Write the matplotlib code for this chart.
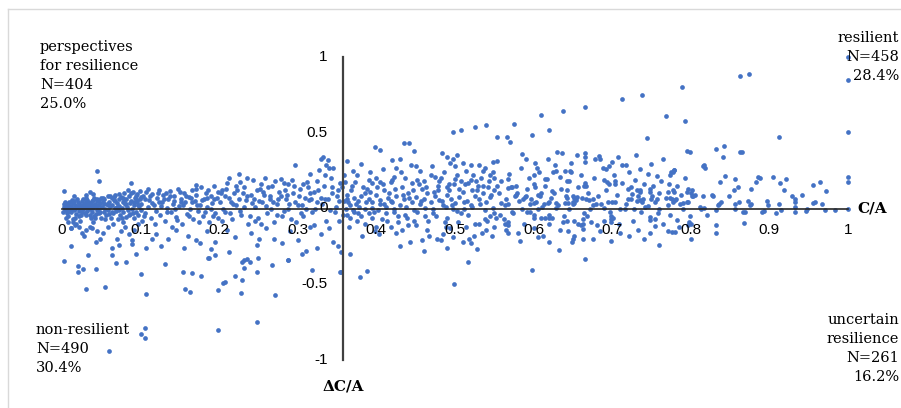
import matplotlib
matplotlib.use("Agg")
import matplotlib.pyplot as plt
from matplotlib.lines import Line2D
import numpy as np

# (C/A, dC/A) pairs, grouped by C/A range
pts_000_005 = [
    (0.002, 0.012), (0.004, -0.008), (0.005, 0.02), (0.006, 0.0), (0.007, -0.015), (0.008, 0.03),
    (0.009, 0.008), (0.010, -0.004), (0.011, 0.018), (0.012, -0.025), (0.013, 0.005), (0.014, 0.035),
    (0.015, -0.01), (0.016, 0.022), (0.017, 0.0), (0.018, -0.035), (0.019, 0.012), (0.020, 0.04),
    (0.021, -0.018), (0.022, 0.028), (0.023, 0.004), (0.024, -0.045), (0.025, 0.016), (0.026, 0.05),
    (0.027, -0.006), (0.028, 0.032), (0.029, -0.028), (0.030, 0.01), (0.031, 0.045), (0.032, -0.015),
    (0.033, 0.024), (0.034, 0.002), (0.035, -0.04), (0.036, 0.038), (0.037, 0.014), (0.038, -0.022),
    (0.039, 0.055), (0.040, 0.006), (0.041, -0.05), (0.042, 0.03), (0.043, 0.018), (0.044, -0.01),
    (0.045, 0.048), (0.046, 0.0), (0.047, -0.03), (0.048, 0.036), (0.049, 0.012), (0.050, -0.06),
    (0.003, 0.03), (0.006, -0.03), (0.009, 0.045), (0.012, 0.0), (0.015, 0.05), (0.018, 0.01),
    (0.021, -0.05), (0.024, 0.025), (0.027, 0.06), (0.030, -0.04), (0.033, 0.042), (0.036, -0.005),
    (0.039, 0.02), (0.042, -0.065), (0.045, 0.062), (0.048, -0.02), (0.004, 0.045), (0.008, -0.05),
    (0.013, 0.058), (0.017, -0.06), (0.022, 0.015), (0.026, -0.02), (0.031, 0.068), (0.035, 0.028),
    (0.038, 0.048), (0.043, -0.035), (0.047, 0.058), (0.001, -0.02), (0.005, -0.06), (0.011, 0.04),
    (0.014, -0.07), (0.019, 0.06), (0.023, -0.08), (0.028, 0.008), (0.032, 0.054), (0.037, -0.06),
    (0.041, 0.072), (0.046, 0.025), (0.049, 0.07),
    (0.002, 0.117), (0.044, 0.249), (0.047, 0.18), (0.002, -0.345), (0.011, -0.249), (0.028, -0.18),
    (0.025, -0.16), (0.033, -0.31), (0.020, -0.38), (0.020, -0.42), (0.027, -0.40), (0.043, -0.40),
    (0.031, -0.533), (0.043, -0.22), (0.048, -0.20), (0.012, -0.13), (0.018, -0.10), (0.035, -0.12),
    (0.040, -0.09), (0.008, -0.09), (0.030, -0.14), (0.045, -0.15), (0.022, -0.12), (0.015, 0.08),
    (0.030, 0.09), (0.040, 0.095), (0.036, 0.11), (0.011, -0.132), (0.014, -0.088), (0.017, -0.106),
    (0.038, -0.128),
]

pts_005_010 = [
    (0.051, 0.01), (0.052, 0.04), (0.053, -0.02), (0.054, 0.065), (0.055, 0.0), (0.056, -0.045),
    (0.057, 0.03), (0.058, 0.08), (0.059, -0.01), (0.060, 0.045), (0.061, 0.015), (0.062, -0.06),
    (0.063, 0.07), (0.064, 0.025), (0.065, -0.03), (0.066, 0.055), (0.067, 0.005), (0.068, 0.09),
    (0.069, -0.015), (0.070, 0.035), (0.071, -0.07), (0.072, 0.06), (0.073, 0.018), (0.074, -0.04),
    (0.075, 0.075), (0.076, 0.002), (0.077, 0.042), (0.078, -0.025), (0.079, 0.10), (0.080, 0.028),
    (0.081, -0.055), (0.082, 0.062), (0.083, 0.01), (0.084, -0.008), (0.085, 0.085), (0.086, 0.038),
    (0.087, -0.035), (0.088, 0.05), (0.089, 0.0), (0.090, 0.11), (0.091, -0.065), (0.092, 0.02),
    (0.093, 0.07), (0.094, -0.02), (0.095, 0.045), (0.096, 0.095), (0.097, -0.045), (0.098, 0.015),
    (0.099, 0.06), (0.100, -0.01),
    (0.052, 0.07), (0.055, -0.07), (0.058, 0.02), (0.061, 0.085), (0.064, -0.02), (0.067, 0.048),
    (0.070, 0.012), (0.073, 0.095), (0.076, -0.06), (0.079, 0.052), (0.082, 0.03), (0.085, -0.045),
    (0.088, 0.105), (0.091, 0.04), (0.094, 0.082), (0.097, 0.025), (0.100, 0.075), (0.054, 0.033),
    (0.060, -0.035), (0.066, 0.078), (0.072, -0.008), (0.078, 0.068), (0.084, 0.12), (0.090, -0.03),
    (0.096, 0.058), (0.099, 0.118),
    (0.088, 0.17), (0.055, -0.515), (0.069, -0.363), (0.082, -0.356), (0.064, -0.31), (0.064, -0.264),
    (0.060, -0.942), (0.089, -0.236), (0.089, -0.205), (0.094, -0.30), (0.100, -0.43), (0.070, -0.20),
    (0.075, -0.15), (0.058, -0.12), (0.065, -0.10), (0.080, -0.12), (0.085, -0.17), (0.092, -0.14),
    (0.097, -0.10), (0.078, -0.09), (0.052, -0.16), (0.073, -0.24),
]

pts_010_020 = [
    (0.101, 0.03), (0.103, 0.08), (0.105, -0.03), (0.107, 0.11), (0.109, 0.01), (0.111, 0.055),
    (0.113, -0.06), (0.115, 0.095), (0.117, 0.02), (0.119, -0.015), (0.121, 0.07), (0.123, 0.125),
    (0.125, -0.045), (0.127, 0.04), (0.129, 0.09), (0.131, -0.08), (0.133, 0.005), (0.135, 0.06),
    (0.137, 0.115), (0.139, -0.025), (0.141, 0.03), (0.143, 0.085), (0.145, -0.055), (0.147, 0.13),
    (0.149, 0.015), (0.151, 0.065), (0.153, -0.10), (0.155, 0.10), (0.157, 0.04), (0.159, -0.035),
    (0.161, 0.075), (0.163, 0.0), (0.165, 0.12), (0.167, -0.07), (0.169, 0.05), (0.171, 0.09),
    (0.173, -0.015), (0.175, 0.025), (0.177, 0.14), (0.179, -0.05), (0.181, 0.06), (0.183, 0.105),
    (0.185, 0.01), (0.187, -0.09), (0.189, 0.08), (0.191, 0.035), (0.193, 0.15), (0.195, -0.03),
    (0.197, 0.07), (0.199, 0.11),
    (0.102, -0.08), (0.106, 0.06), (0.110, 0.13), (0.114, 0.035), (0.118, -0.10), (0.122, 0.10),
    (0.126, 0.015), (0.130, 0.065), (0.134, -0.02), (0.138, 0.08), (0.142, 0.05), (0.146, -0.075),
    (0.150, 0.11), (0.154, 0.02), (0.158, 0.085), (0.162, -0.05), (0.166, 0.045), (0.170, 0.13),
    (0.174, -0.09), (0.178, 0.055), (0.182, -0.02), (0.186, 0.12), (0.190, 0.0), (0.194, 0.06),
    (0.198, -0.06),
    (0.104, -0.05), (0.112, 0.085), (0.124, 0.045), (0.132, 0.10), (0.144, 0.0), (0.152, 0.045),
    (0.164, 0.07), (0.172, 0.02), (0.184, 0.07), (0.192, -0.05),
    (0.105, -0.792), (0.101, -0.827), (0.105, -0.853), (0.107, -0.563), (0.131, -0.367),
    (0.154, -0.416), (0.165, -0.427), (0.157, -0.53), (0.163, -0.548), (0.177, -0.447),
    (0.186, -0.33), (0.170, 0.154), (0.107, -0.26), (0.126, -0.25), (0.120, -0.17), (0.135, -0.20),
    (0.145, -0.14), (0.160, -0.18), (0.175, -0.23), (0.185, -0.15), (0.190, -0.27), (0.171, -0.209),
    (0.140, -0.12), (0.115, -0.20), (0.195, -0.22), (0.155, -0.26),
]

pts_020_036 = [
    (0.201, 0.04), (0.204, 0.12), (0.207, -0.02), (0.210, 0.17), (0.213, 0.07), (0.216, -0.07),
    (0.219, 0.10), (0.222, 0.02), (0.225, 0.226), (0.228, -0.04), (0.231, 0.14), (0.234, 0.055),
    (0.237, -0.10), (0.240, 0.09), (0.243, 0.185), (0.246, 0.01), (0.249, -0.06), (0.252, 0.13),
    (0.255, 0.04), (0.258, 0.20), (0.261, -0.03), (0.264, 0.08), (0.267, 0.15), (0.270, -0.09),
    (0.273, 0.03), (0.276, 0.11), (0.279, 0.198), (0.282, -0.015), (0.285, 0.06), (0.288, 0.16),
    (0.291, -0.07), (0.294, 0.10), (0.297, 0.288), (0.300, 0.02), (0.303, 0.13), (0.306, -0.05),
    (0.309, 0.07), (0.312, 0.175), (0.315, 0.231), (0.318, -0.02), (0.321, 0.11), (0.324, 0.04),
    (0.327, 0.257), (0.330, 0.33), (0.333, 0.15), (0.336, -0.08), (0.339, 0.06), (0.342, 0.20),
    (0.345, 0.27), (0.348, 0.01), (0.351, 0.12), (0.354, 0.17), (0.357, -0.04),
    (0.203, -0.08), (0.208, 0.085), (0.212, 0.20), (0.217, 0.03), (0.221, 0.15), (0.226, -0.015),
    (0.230, 0.10), (0.235, 0.20), (0.239, -0.05), (0.244, 0.06), (0.248, 0.12), (0.253, -0.10),
    (0.257, 0.09), (0.262, 0.14), (0.266, 0.0), (0.271, 0.18), (0.275, 0.06), (0.280, -0.05),
    (0.284, 0.12), (0.289, 0.03), (0.293, 0.19), (0.298, -0.09), (0.302, 0.08), (0.307, 0.16),
    (0.311, 0.0), (0.316, 0.10), (0.320, -0.11), (0.325, 0.18), (0.329, 0.07), (0.334, 0.22),
    (0.338, 0.32), (0.343, 0.10), (0.347, -0.02), (0.352, 0.05), (0.356, 0.14), (0.332, 0.34),
    (0.340, 0.27), (0.336, 0.29),
    (0.205, 0.0), (0.215, 0.045), (0.225, 0.065), (0.232, 0.01), (0.242, 0.035), (0.250, 0.05),
    (0.260, 0.015), (0.268, 0.045), (0.278, 0.08), (0.287, 0.0), (0.296, 0.04), (0.305, 0.025),
    (0.314, 0.055), (0.322, 0.0), (0.331, 0.03), (0.341, -0.01), (0.350, 0.08), (0.209, 0.13),
    (0.227, 0.175), (0.253, 0.16), (0.283, 0.17), (0.313, 0.14),
    (0.202, 0.10), (0.214, -0.03), (0.223, 0.12), (0.236, 0.08), (0.245, -0.08), (0.256, 0.11),
    (0.265, 0.06), (0.274, -0.04), (0.286, 0.09), (0.295, 0.15), (0.304, -0.03), (0.317, 0.06),
    (0.326, 0.12), (0.335, 0.06), (0.344, 0.14), (0.353, -0.08), (0.359, 0.05), (0.359, 0.22),
    (0.195, -0.304), (0.187, -0.33), (0.212, -0.287), (0.232, -0.34), (0.232, -0.39),
    (0.248, -0.238), (0.248, -0.418), (0.267, -0.374), (0.288, -0.341), (0.310, -0.28),
    (0.318, -0.403), (0.354, -0.418), (0.351, -0.246), (0.220, -0.447), (0.205, -0.495),
    (0.208, -0.484), (0.198, -0.541), (0.228, -0.561), (0.271, -0.568), (0.229, -0.356),
    (0.235, -0.334), (0.239, -0.356), (0.229, -0.47), (0.249, -0.33), (0.287, -0.343),
    (0.198, -0.803), (0.248, -0.752), (0.355, -0.286), (0.355, -0.418), (0.210, -0.14),
    (0.220, -0.19), (0.240, -0.16), (0.260, -0.13), (0.270, -0.20), (0.290, -0.15), (0.300, -0.21),
    (0.330, -0.17), (0.340, -0.13), (0.315, -0.12), (0.345, -0.22), (0.280, -0.23), (0.250, -0.20),
    (0.305, -0.30), (0.325, -0.26),
]

pts_036_055 = [
    (0.398, 0.405), (0.405, 0.387), (0.435, 0.43), (0.441, 0.43), (0.448, 0.378), (0.363, 0.315),
    (0.380, 0.297), (0.420, 0.32), (0.430, 0.325), (0.444, 0.284), (0.450, 0.28), (0.484, 0.365),
    (0.490, 0.34), (0.494, 0.30), (0.498, 0.33), (0.500, 0.28), (0.502, 0.35), (0.520, 0.284),
    (0.530, 0.284), (0.553, 0.312), (0.548, 0.31), (0.498, 0.508), (0.508, 0.517), (0.526, 0.537),
    (0.540, 0.548), (0.553, 0.469), (0.370, 0.249), (0.360, 0.178), (0.373, 0.176), (0.390, 0.19),
    (0.395, 0.17), (0.400, 0.20), (0.405, 0.175), (0.420, 0.19), (0.422, 0.205), (0.418, 0.175),
    (0.431, 0.238), (0.445, 0.17), (0.452, 0.19), (0.460, 0.18), (0.475, 0.21), (0.480, 0.18),
    (0.482, 0.20), (0.490, 0.145), (0.492, 0.16), (0.500, 0.198), (0.502, 0.22), (0.513, 0.165),
    (0.516, 0.17), (0.520, 0.19), (0.527, 0.18), (0.533, 0.20), (0.535, 0.15), (0.545, 0.22),
    (0.548, 0.24), (0.550, 0.20),
    (0.362, 0.06), (0.364, 0.04), (0.367, 0.02), (0.372, 0.07), (0.376, 0.05), (0.380, 0.08),
    (0.385, 0.10), (0.390, 0.06), (0.395, 0.045), (0.400, 0.09), (0.405, 0.055), (0.410, 0.03),
    (0.415, 0.07), (0.420, 0.04), (0.425, 0.085), (0.430, 0.02), (0.435, 0.06), (0.440, 0.10),
    (0.445, 0.045), (0.450, 0.075), (0.455, 0.03), (0.460, 0.065), (0.465, 0.10), (0.470, 0.04),
    (0.475, 0.08), (0.480, 0.055), (0.485, 0.025), (0.490, 0.09), (0.495, 0.06), (0.500, 0.035),
    (0.505, 0.075), (0.510, 0.11), (0.515, 0.05), (0.520, 0.02), (0.525, 0.085), (0.530, 0.06),
    (0.535, 0.10), (0.540, 0.04), (0.545, 0.075), (0.550, 0.12), (0.368, 0.12), (0.388, 0.13),
    (0.410, 0.12), (0.432, 0.14), (0.458, 0.13), (0.478, 0.12), (0.505, 0.13), (0.528, 0.125),
    (0.542, 0.14),
    (0.363, 0.09), (0.369, 0.15), (0.374, 0.03), (0.377, -0.03), (0.383, 0.14), (0.387, 0.04),
    (0.392, 0.11), (0.397, -0.02), (0.401, 0.14), (0.404, 0.03), (0.408, 0.16), (0.413, -0.08),
    (0.416, 0.10), (0.419, 0.05), (0.424, 0.13), (0.427, -0.09), (0.434, 0.09), (0.436, 0.20),
    (0.439, -0.06), (0.442, 0.07), (0.447, 0.12), (0.451, -0.11), (0.454, 0.16), (0.457, 0.05),
    (0.463, 0.14), (0.466, -0.08), (0.469, 0.22), (0.473, 0.11), (0.476, -0.05), (0.479, 0.15),
    (0.483, 0.05), (0.486, 0.24), (0.489, -0.12), (0.493, 0.12), (0.496, 0.02), (0.499, 0.16),
    (0.504, -0.09), (0.507, 0.18), (0.511, 0.04), (0.514, 0.25), (0.517, -0.04), (0.521, 0.12),
    (0.523, 0.22), (0.526, -0.10), (0.529, 0.15), (0.532, 0.03), (0.536, 0.25), (0.539, -0.14),
    (0.543, 0.18), (0.546, 0.09), (0.549, -0.03), (0.553, 0.15), (0.409, 0.26), (0.425, 0.27),
    (0.455, 0.25), (0.471, 0.28), (0.510, 0.30), (0.538, 0.27), (0.375, 0.22), (0.392, 0.24),
    (0.361, 0.0), (0.370, -0.01), (0.378, 0.01), (0.386, -0.005), (0.394, 0.005), (0.402, -0.01),
    (0.412, 0.01), (0.422, 0.0), (0.438, 0.008), (0.448, -0.008), (0.462, 0.005), (0.472, 0.0),
    (0.488, 0.01), (0.498, -0.005), (0.512, 0.0), (0.522, 0.008), (0.538, -0.01), (0.548, 0.005),
    (0.362, -0.04), (0.366, -0.06), (0.371, -0.02), (0.375, -0.08), (0.381, -0.05), (0.385, -0.10),
    (0.390, -0.03), (0.395, -0.06), (0.398, -0.15), (0.403, -0.17), (0.407, -0.07), (0.412, -0.03),
    (0.418, -0.12), (0.423, -0.02), (0.428, -0.05), (0.433, -0.14), (0.437, -0.04), (0.443, -0.22),
    (0.448, -0.08), (0.452, -0.02), (0.458, -0.21), (0.462, -0.05), (0.467, -0.18), (0.472, -0.03),
    (0.477, -0.20), (0.482, -0.21), (0.487, -0.09), (0.490, -0.06), (0.494, -0.13), (0.497, -0.19),
    (0.503, -0.015), (0.508, -0.03), (0.514, -0.12), (0.518, -0.20), (0.520, -0.23), (0.524, -0.18),
    (0.528, -0.27), (0.534, -0.16), (0.538, -0.07), (0.541, -0.08), (0.545, -0.05), (0.550, -0.12),
    (0.552, -0.06), (0.365, -0.12), (0.382, -0.18), (0.400, -0.12), (0.425, -0.16), (0.440, -0.11),
    (0.465, -0.14), (0.485, -0.17), (0.510, -0.22), (0.530, -0.10), (0.547, -0.18),
    (0.499, -0.50), (0.379, -0.455), (0.388, -0.411), (0.516, -0.35),
    (0.366, -0.30), (0.430, -0.25), (0.460, -0.28), (0.490, -0.26),
]

pts_055_080 = [
    (0.575, 0.561), (0.610, 0.618), (0.637, 0.645), (0.665, 0.673), (0.713, 0.724), (0.738, 0.748),
    (0.769, 0.612), (0.789, 0.799), (0.793, 0.576), (0.566, 0.471), (0.570, 0.436), (0.744, 0.465),
    (0.598, 0.484), (0.620, 0.519), (0.585, 0.363), (0.630, 0.37), (0.636, 0.365), (0.665, 0.365),
    (0.665, 0.337), (0.665, 0.304), (0.618, 0.325), (0.602, 0.30), (0.604, 0.27), (0.678, 0.33),
    (0.683, 0.345), (0.684, 0.33), (0.692, 0.262), (0.696, 0.28), (0.708, 0.343), (0.712, 0.286),
    (0.718, 0.29), (0.736, 0.264), (0.749, 0.292), (0.775, 0.24), (0.778, 0.255), (0.795, 0.381),
    (0.799, 0.376), (0.779, 0.257), (0.773, 0.22), (0.777, 0.24),
    (0.625, 0.244), (0.628, 0.245), (0.640, 0.25), (0.646, 0.245), (0.648, 0.242), (0.600, 0.218),
    (0.634, 0.209), (0.642, 0.183), (0.645, 0.183), (0.665, 0.17), (0.667, 0.15), (0.664, 0.148),
    (0.617, 0.193), (0.614, 0.196), (0.568, 0.193), (0.571, 0.145), (0.573, 0.14), (0.567, 0.135),
    (0.579, 0.10), (0.577, 0.09), (0.576, 0.085), (0.600, 0.16), (0.602, 0.14), (0.690, 0.19),
    (0.693, 0.175), (0.696, 0.165), (0.703, 0.18), (0.704, 0.16), (0.720, 0.13), (0.724, 0.14),
    (0.725, 0.095), (0.731, 0.12), (0.736, 0.12), (0.735, 0.11), (0.748, 0.13), (0.748, 0.11),
    (0.750, 0.085), (0.749, 0.06), (0.757, 0.213), (0.771, 0.11), (0.778, 0.11), (0.780, 0.055),
    (0.650, 0.08), (0.652, 0.07), (0.653, 0.06), (0.654, 0.055), (0.655, 0.075), (0.650, 0.045),
    (0.652, 0.035), (0.650, 0.03), (0.641, 0.082), (0.642, 0.07), (0.624, 0.117), (0.626, 0.105),
    (0.606, 0.09), (0.610, 0.105), (0.608, 0.08), (0.590, 0.08), (0.589, 0.075), (0.586, 0.065),
    (0.595, 0.03), (0.600, 0.035), (0.603, 0.04), (0.567, 0.03), (0.563, 0.025), (0.558, 0.035),
    (0.613, 0.03), (0.619, 0.04), (0.618, 0.035), (0.628, 0.035), (0.640, 0.035), (0.644, 0.035),
    (0.662, 0.07), (0.667, 0.065), (0.670, 0.055), (0.675, 0.06), (0.675, 0.02), (0.680, 0.03),
    (0.686, 0.03), (0.695, 0.045), (0.700, 0.04), (0.704, 0.04), (0.720, 0.065), (0.724, 0.06),
    (0.731, 0.05), (0.735, 0.055), (0.739, 0.06), (0.738, 0.045), (0.742, 0.01), (0.746, 0.018),
    (0.754, 0.04), (0.757, 0.06), (0.771, 0.02), (0.777, 0.04), (0.781, 0.06),
    (0.556, 0.10), (0.559, 0.18), (0.562, -0.07), (0.565, 0.06), (0.569, 0.23), (0.574, -0.03),
    (0.578, 0.15), (0.582, 0.05), (0.584, 0.27), (0.588, -0.10), (0.591, 0.13), (0.594, 0.20),
    (0.597, 0.06), (0.601, -0.13), (0.607, 0.24), (0.611, 0.01), (0.615, 0.15), (0.619, -0.10),
    (0.622, 0.07), (0.627, 0.29), (0.631, 0.02), (0.635, 0.13), (0.639, -0.05), (0.643, 0.12),
    (0.647, 0.30), (0.651, -0.08), (0.657, 0.14), (0.660, 0.22), (0.669, 0.10), (0.673, -0.09),
    (0.677, 0.20), (0.682, 0.08), (0.685, -0.15), (0.688, 0.27), (0.692, 0.12), (0.697, -0.02),
    (0.702, 0.22), (0.706, 0.09), (0.709, -0.10), (0.713, 0.17), (0.717, 0.03), (0.721, 0.24),
    (0.726, -0.08), (0.729, 0.19), (0.733, 0.08), (0.737, -0.02), (0.741, 0.16), (0.745, 0.23),
    (0.752, 0.15), (0.755, -0.07), (0.759, 0.10), (0.762, 0.18), (0.765, -0.10), (0.768, 0.07),
    (0.772, 0.16), (0.774, -0.04), (0.783, 0.15), (0.785, -0.12), (0.788, 0.09), (0.792, 0.20),
    (0.580, -0.16), (0.620, -0.22), (0.675, -0.20), (0.710, -0.16), (0.740, -0.20), (0.760, -0.24),
    (0.590, 0.33), (0.655, 0.35), (0.700, 0.31), (0.730, 0.35), (0.765, 0.33),
    (0.716, -0.004), (0.758, -0.033), (0.748, -0.056), (0.748, -0.073), (0.748, -0.16),
    (0.754, -0.117), (0.771, -0.15), (0.780, -0.155), (0.733, -0.14), (0.722, -0.18),
    (0.698, -0.05), (0.701, -0.06), (0.698, -0.067), (0.699, -0.087), (0.690, -0.083),
    (0.698, -0.213), (0.681, -0.106), (0.668, -0.05), (0.664, -0.03), (0.663, -0.07),
    (0.663, -0.10), (0.660, -0.11), (0.656, -0.105), (0.663, -0.135), (0.663, -0.20),
    (0.665, -0.335), (0.651, -0.18), (0.650, -0.20), (0.649, -0.22), (0.644, -0.15),
    (0.642, -0.08), (0.638, -0.09), (0.633, -0.14), (0.632, -0.275), (0.624, -0.06),
    (0.620, -0.06), (0.620, -0.04), (0.614, -0.06), (0.612, -0.18), (0.606, -0.185),
    (0.609, -0.06), (0.600, -0.06), (0.600, -0.04), (0.596, -0.02), (0.592, -0.02),
    (0.598, -0.403), (0.583, -0.213), (0.567, -0.11), (0.567, -0.16), (0.565, -0.14),
    (0.567, -0.09), (0.564, -0.10), (0.557, -0.04), (0.572, -0.02), (0.585, 0.0), (0.605, 0.0),
    (0.628, 0.005), (0.645, -0.005), (0.672, 0.0), (0.690, 0.005), (0.710, 0.0), (0.728, -0.005),
    (0.760, 0.0), (0.790, 0.0), (0.776, -0.154), (0.782, -0.077), (0.786, 0.03), (0.790, 0.035),
    (0.795, 0.04), (0.797, 0.045), (0.776, 0.066), (0.773, 0.07), (0.777, 0.12), (0.799, -0.05),
    (0.798, -0.09), (0.800, -0.10), (0.797, -0.11), (0.800, -0.20), (0.800, 0.10), (0.801, 0.12),
    (0.797, 0.13), (0.795, 0.11), (0.802, 0.08), (0.805, 0.09), (0.803, 0.085),
]

pts_080_100 = [
    (0.863, 0.873), (0.874, 0.887), (1.0, 0.845), (1.0, 1.0), (0.832, 0.396), (0.842, 0.414),
    (0.841, 0.343), (0.863, 0.374), (0.865, 0.37), (0.912, 0.475), (1.0, 0.508), (0.815, 0.28),
    (0.817, 0.29), (0.818, 0.27), (0.844, 0.216), (0.856, 0.196), (0.837, 0.174), (0.885, 0.205),
    (0.888, 0.20), (0.904, 0.207), (0.921, 0.198), (0.914, 0.17), (0.883, 0.174), (0.876, 0.132),
    (0.956, 0.158), (0.964, 0.174), (0.972, 0.114), (1.0, 0.207), (1.0, 0.172), (0.918, 0.121),
    (0.929, 0.08), (0.932, 0.06), (0.933, 0.04), (0.941, 0.09), (0.958, 0.04), (0.955, 0.035),
    (0.967, 0.033), (1.0, 0.0), (0.984, -0.011), (0.971, -0.011), (0.948, 0.0), (0.946, -0.015),
    (0.932, 0.01), (0.932, -0.02), (0.908, -0.03), (0.890, -0.02), (0.893, -0.015), (0.897, 0.05),
    (0.898, 0.02), (0.912, 0.03), (0.915, -0.01), (0.868, -0.095), (0.869, -0.025),
    (0.866, -0.025), (0.861, 0.044), (0.875, 0.02), (0.873, 0.05), (0.877, 0.03), (0.856, 0.03),
    (0.856, 0.0), (0.848, 0.081), (0.836, 0.03), (0.838, 0.04), (0.834, 0.025), (0.832, -0.013),
    (0.832, -0.11), (0.832, -0.163), (0.821, -0.04), (0.827, 0.086), (0.828, 0.08), (0.815, 0.084),
    (0.812, 0.01), (0.813, 0.0), (0.817, 0.005), (0.855, 0.12), (0.860, 0.14),
]

x_ticks = [0, 0.1, 0.2, 0.3, 0.4, 0.5, 0.6, 0.7, 0.8, 0.9, 1]
x_tick_labels = ["0", "0.1", "0.2", "0.3", "0.4", "0.5", "0.6", "0.7", "0.8", "0.9", "1"]
y_ticks = [1, 0.5, 0, -0.5, -1]
y_tick_labels = ["1", "0.5", "0", "-0.5", "-1"]
y_axis_at = 0.358

quadrant_labels = [
    "perspectives\nfor resilience\nN=404\n25.0%",
    "resilient\nN=458\n28.4%",
    "non-resilient\nN=490\n30.4%",
    "uncertain\nresilience\nN=261\n16.2%",
]

all_pts = np.array(pts_000_005 + pts_005_010 + pts_010_020 + pts_020_036
                   + pts_036_055 + pts_055_080 + pts_080_100)

W, H = 901, 408
fig = plt.figure(figsize=(W / 100, H / 100), dpi=100)
ax = fig.add_axes([62 / W, 1 - 360 / H, 786 / W, 303 / H])
ax.set_xlim(0, 1)
ax.set_ylim(-1, 1)
ax.axis("off")

ax.plot(all_pts[:, 0], all_pts[:, 1], "o", ms=3.4, color="#4472C4", mec="none", zorder=2,
        clip_on=False)

# axes crossing inside the plot, Excel style
ax.plot([0, 1], [0, 0], color="#262626", lw=1.2, zorder=3, clip_on=False)
ax.plot([y_axis_at, y_axis_at], [-1, 1], color="#404040", lw=1.6, zorder=3, clip_on=False)

tick_font = dict(family="Liberation Sans", fontsize=11, color="#000000")
for v, s in zip(x_ticks, x_tick_labels):
    ax.text(v, -0.145, s, ha="center", va="center", zorder=4, **tick_font)
for v, s in zip(y_ticks, y_tick_labels):
    ax.text(0.338, v, s, ha="right", va="center", zorder=4, **tick_font)

title_font = dict(family="DejaVu Serif", fontsize=11, fontweight="bold")
ax.text(1.0305, 0, "C/A", ha="center", va="center", clip_on=False, **title_font)
ax.text(y_axis_at, -1.175, "ΔC/A", ha="center", va="center", clip_on=False, **title_font)

lab_font = dict(family="DejaVu Serif", fontsize=10.5, linespacing=1.45)
fig.text(40 / W, 1 - 40 / H, quadrant_labels[0], ha="left", va="top", **lab_font)
fig.text(899 / W, 1 - 31 / H, quadrant_labels[1], ha="right", va="top", multialignment="right", **lab_font)
fig.text(36 / W, 1 - 323 / H, quadrant_labels[2], ha="left", va="top", **lab_font)
fig.text(899 / W, 1 - 313 / H, quadrant_labels[3], ha="right", va="top", multialignment="right", **lab_font)

# chart area border (only left and top edges fall inside the picture)
fig.add_artist(Line2D([8 / W, 8 / W], [0, 1 - 9 / H], color="#D9D9D9", lw=1))
fig.add_artist(Line2D([8 / W, 1], [1 - 9 / H, 1 - 9 / H], color="#D9D9D9", lw=1))

fig.savefig("out.png", dpi=100)
